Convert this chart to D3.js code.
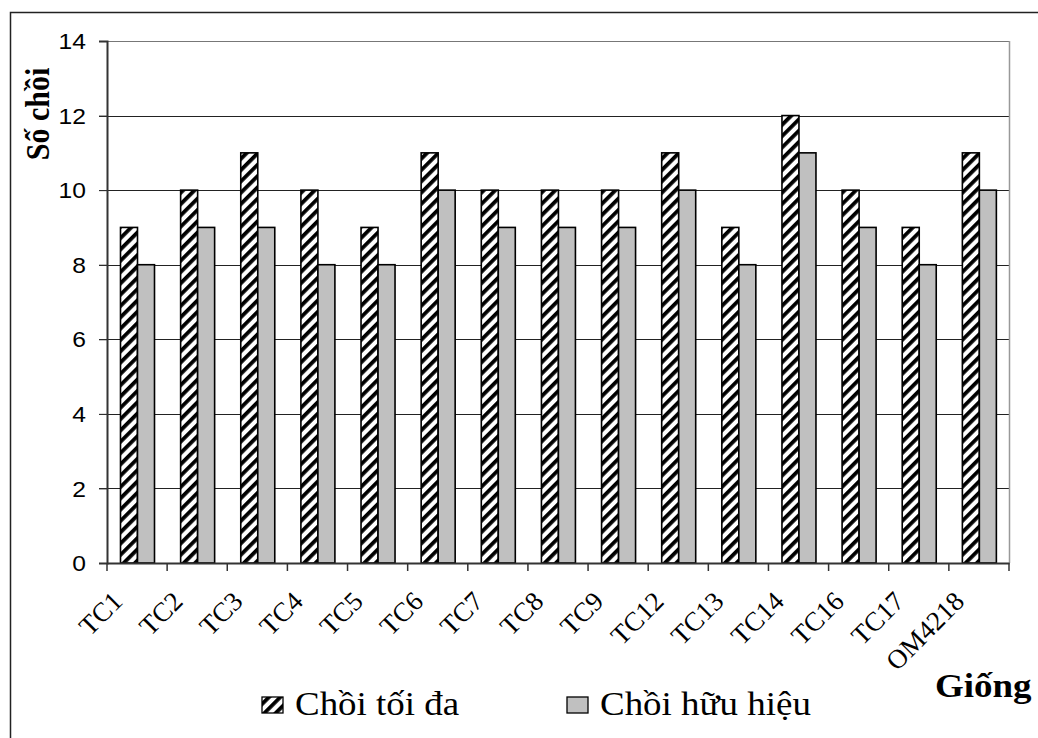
<!DOCTYPE html>
<html>
<head>
<meta charset="utf-8">
<script src="https://cdn.jsdelivr.net/npm/d3@7"></script>
<style>
html,body{margin:0;padding:0;background:#fff;}
svg{display:block;}
</style>
</head>
<body>
<svg id="chart" width="1038" height="738"></svg>
<script>
const categories = ["TC1","TC2","TC3","TC4","TC5","TC6","TC7","TC8","TC9","TC12","TC13","TC14","TC16","TC17","OM4218"];
const seriesNames = ["Chồi tối đa","Chồi hữu hiệu"];
const choiToiDa = [9,10,11,10,9,11,10,10,10,11,9,12,10,9,11];
const choiHuuHieu = [8,9,9,8,8,10,9,9,9,10,8,11,9,8,10];
const yTicks = [0,2,4,6,8,10,12,14];

const svg = d3.select("#chart");
const plot = {left:107, right:1009, top:41, bottom:563};

const defs = svg.append("defs");
const pat = defs.append("pattern").attr("id","hatch")
  .attr("patternUnits","userSpaceOnUse").attr("width",8).attr("height",8)
  .attr("patternTransform","rotate(45)");
pat.append("rect").attr("width",8).attr("height",8).attr("fill","#fff");
pat.append("rect").attr("x",0).attr("width",3.8).attr("height",8).attr("fill","#000");

// outer frame (left + top visible)
svg.append("path").attr("d","M10.5,740 L10.5,12.5 L1040,12.5")
  .attr("fill","none").attr("stroke","#222").attr("stroke-width",1.5);

const x = d3.scaleBand().domain(categories).range([plot.left, plot.right]).padding(0);
const xs = d3.scaleBand().domain(seriesNames).range([13.5, 47.5]).padding(0);
const y = d3.scaleLinear().domain([0,14]).range([plot.bottom, plot.top]);

// gridlines
svg.append("g").selectAll("line").data(yTicks.filter(d=>d>0)).join("line")
  .attr("x1",plot.left-8).attr("x2",plot.right)
  .attr("y1",d=>Math.round(y(d))+0.5).attr("y2",d=>Math.round(y(d))+0.5)
  .attr("stroke",d=>d===14?"#777":"#222").attr("stroke-width",1);

// right plot border
svg.append("line").attr("x1",plot.right+0.5).attr("x2",plot.right+0.5)
  .attr("y1",plot.top).attr("y2",plot.bottom).attr("stroke","#999").attr("stroke-width",1.5);

// bars
const data = categories.map((c,i)=>({c, vals:[choiToiDa[i], choiHuuHieu[i]]}));
const groups = svg.append("g").selectAll("g").data(data).join("g")
  .attr("transform",d=>`translate(${x(d.c)},0)`);
groups.selectAll("rect").data(d=>d.vals.map((v,j)=>({s:seriesNames[j], v, j}))).join("rect")
  .attr("x",d=>xs(d.s)).attr("width",xs.bandwidth())
  .attr("y",d=>y(d.v)).attr("height",d=>y(0)-y(d.v))
  .attr("fill",d=>d.j===0?"url(#hatch)":"#c0c0c0")
  .attr("stroke","#000").attr("stroke-width",1.6);

// y axis
const yAxis = d3.axisLeft(y).tickValues(yTicks).tickSize(8).tickPadding(12).tickFormat(d3.format("d"));
const gy = svg.append("g").attr("transform",`translate(${plot.left},0)`).call(yAxis);
gy.select(".domain").attr("stroke","#333").attr("stroke-width",2);
gy.selectAll(".tick line").attr("stroke","#333");
gy.selectAll(".tick text").attr("font-family","'Liberation Sans', Arial, sans-serif")
  .attr("font-size",22).attr("fill","#000")
  .attr("transform","scale(1.12,1)").attr("x",-21/1.12).attr("dy","0.35em");

// x axis
const xAxis = d3.axisBottom(x).tickSize(0).tickFormat("");
const gx = svg.append("g").attr("transform",`translate(0,${plot.bottom})`).call(xAxis);
gx.select(".domain").attr("stroke","#333").attr("stroke-width",2);
const boundaries = categories.map(c=>x(c)).concat([plot.right]);
gx.append("g").selectAll("line").data(boundaries).join("line")
  .attr("x1",d=>d).attr("x2",d=>d).attr("y1",0).attr("y2",8)
  .attr("stroke","#333").attr("stroke-width",1.5);

svg.append("g").attr("class","xlabels").selectAll("text").data(categories).join("text")
  .attr("x",d=>x(d)+x.bandwidth()/2-13).attr("y",603)
  .attr("transform",d=>`rotate(-45 ${x(d)+x.bandwidth()/2-13} 603)`)
  .attr("text-anchor","end")
  .attr("font-family","'Liberation Serif', 'Times New Roman', serif")
  .attr("font-size",27).attr("fill","#000")
  .text(d=>d);

// y title
svg.append("text")
  .attr("transform","translate(49,114) rotate(-90) scale(1,1.12)")
  .attr("text-anchor","middle")
  .attr("font-family","'Liberation Serif', 'Times New Roman', serif")
  .attr("font-weight","bold").attr("font-size",30).attr("fill","#000")
  .text("Số chồi");

// x title
svg.append("text")
  .attr("transform","translate(935,697) scale(1.12,1)")
  .attr("font-family","'Liberation Serif', 'Times New Roman', serif")
  .attr("font-weight","bold").attr("font-size",33).attr("fill","#000")
  .text("Giống");

// legend
const legendX = [262, 567];
const lg = svg.append("g").selectAll("g").data(seriesNames).join("g")
  .attr("transform",(d,i)=>`translate(${legendX[i]},0)`);
lg.append("rect").attr("x",0).attr("y",697).attr("width",21).attr("height",16)
  .attr("fill",(d,i)=>i===0?"url(#hatch)":"#c0c0c0").attr("stroke","#000").attr("stroke-width",1.3);
lg.append("text")
  .attr("transform","translate(33,715) scale(1.12,1)")
  .attr("font-family","'Liberation Serif', 'Times New Roman', serif")
  .attr("font-size",33).attr("fill","#000")
  .text(d=>d);
</script>
</body>
</html>
